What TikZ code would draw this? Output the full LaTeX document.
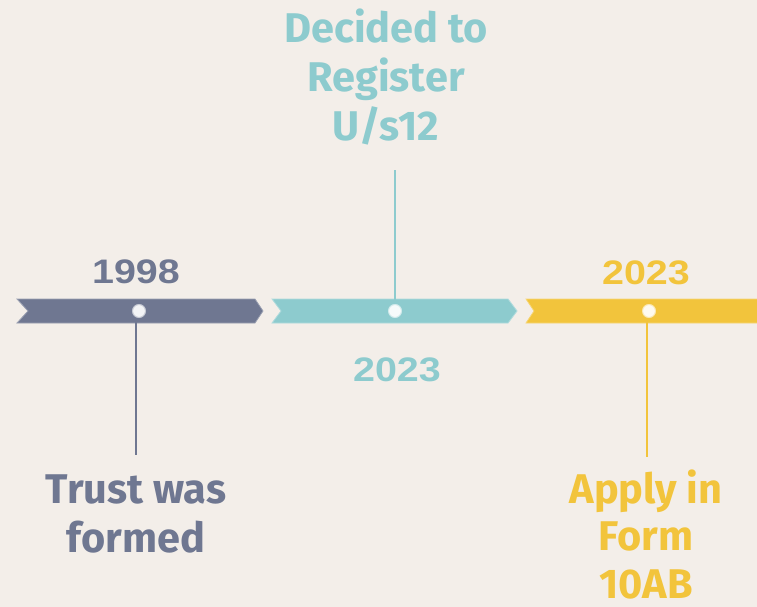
\documentclass[tikz,border=0pt]{standalone}
\usepackage{fontspec}
\newfontfamily\labelfont{Fira Sans}
\newfontfamily\yearfont{Liberation Sans}
\definecolor{bg}{HTML}{F3EEE9}
\definecolor{cgray}{HTML}{6F7791}
\definecolor{cteal}{HTML}{8DCBCE}
\definecolor{cyell}{HTML}{F2C43C}
\begin{document}
\begin{tikzpicture}[x=1pt,y=-1pt,
  lbl/.style={align=center,inner sep=0pt,anchor=base,font=\labelfont\bfseries\fontsize{41.5}{48.5}\selectfont},
  yr/.style={inner sep=0pt,anchor=base,xscale=1.16,font=\yearfont\bfseries\fontsize{34}{40}\selectfont},
  dot/.style={circle,minimum size=13pt,inner sep=0pt,fill=white!92!#1,draw=white!60!#1,line width=1pt},
  stem/.style={line width=1.8pt,draw=#1}]
\fill[bg] (0,0) rectangle (757,607);
\useasboundingbox (0,0) rectangle (757,607);
% bars
\fill[cgray,draw=cgray!70!white,line width=0.8pt] (17,299) -- (255,299) -- (263,311) -- (255,323) -- (17,323) -- (28,311) -- cycle;
\fill[cteal,draw=cteal!70!white,line width=0.8pt] (272,299) -- (508,299) -- (517,311) -- (508,323) -- (272,323) -- (281,311) -- cycle;
\fill[cyell,draw=cyell!70!white,line width=0.8pt] (526,299) -- (758,299) -- (758,323) -- (526,323) -- (534,311) -- cycle;
% dots
\node[dot=cgray] (d1) at (139,311) {};
\node[dot=cteal] (d2) at (395,311) {};
\node[dot=cyell] (d3) at (649,311) {};
% stems
\coordinate (e1) at (136,455);
\coordinate (e2) at (395,170);
\coordinate (e3) at (647,457);
\draw[stem=cgray] (d1.south -| e1) -- (e1);
\draw[stem=cteal] (d2.north) -- (e2);
\draw[stem=cyell] (d3.south -| e3) -- (e3);
% years
\node[yr,text=cgray] (y1) at (136,283) {1998};
\node[yr,text=cteal] (y2) at (397,381) {2023};
\node[yr,text=cyell] (y3) at (646,284) {2023};
% labels (anchor = baseline of last line)
\node[lbl,text=cteal] (t2) at (386,140) {Decided to\\Register\\U/s12};
\node[lbl,text=cgray] (t1) at (136,552) {Trust was\\formed};
\node[lbl,text=cyell,font=\labelfont\bfseries\fontsize{41.5}{47.5}\selectfont] (t3) at (646,598) {Apply in\\Form\\10AB};
\end{tikzpicture}
\end{document}
